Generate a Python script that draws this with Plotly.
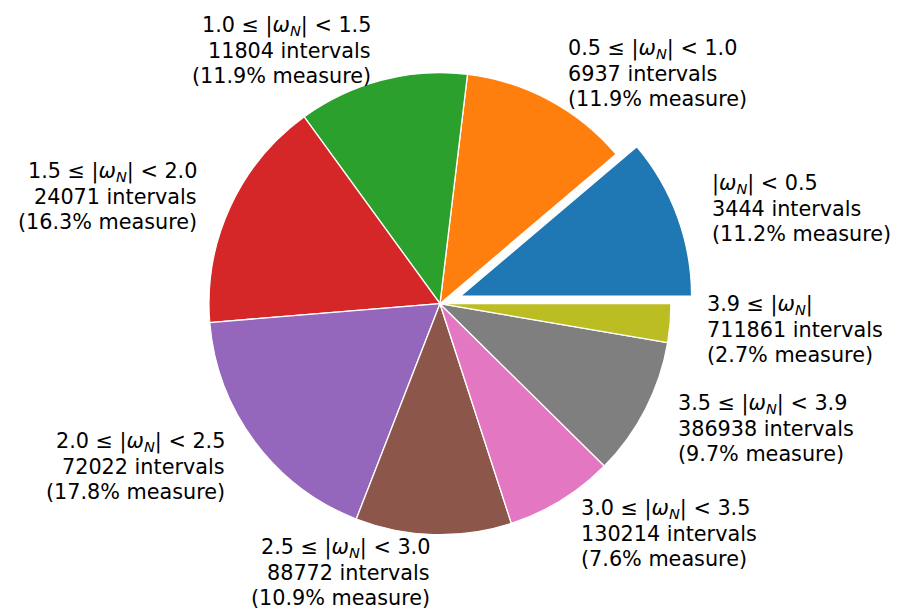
import math
import plotly.graph_objects as go

# ---- data ----
ranges = ["|ω_N| < 0.5", "0.5 ≤ |ω_N| < 1.0", "1.0 ≤ |ω_N| < 1.5", "1.5 ≤ |ω_N| < 2.0",
          "2.0 ≤ |ω_N| < 2.5", "2.5 ≤ |ω_N| < 3.0", "3.0 ≤ |ω_N| < 3.5", "3.5 ≤ |ω_N| < 3.9",
          "3.9 ≤ |ω_N|"]
intervals = [3444, 6937, 11804, 24071, 72022, 88772, 130214, 386938, 711861]
measure = [11.2, 11.9, 11.9, 16.3, 17.8, 10.9, 7.6, 9.7, 2.7]
colors = ["#1f77b4", "#ff7f0e", "#2ca02c", "#d62728", "#9467bd",
          "#8c564b", "#e377c2", "#7f7f7f", "#bcbd22"]
pulls = [0.095, 0, 0, 0, 0, 0, 0, 0, 0]

W, H = 897, 609
dom_x = [0.2085, 0.7725]
dom_y = [0.0853, 0.9174]
FONT = "DejaVu Sans"
FS = 20.75
LINE = 25
LABEL_DIST = 1.15
TEXT_DY = -4


def mathify(s):
    return s.replace("ω_N", "<i>ω</i><sub><i>N</i></sub>")


total = sum(measure)
# plotly's counterclockwise pies put the first slice clockwise of `rotation`;
# shift so the first slice starts at 3 o'clock and runs counterclockwise.
rotation = 90 - measure[0] / total * 360

fig = go.Figure(go.Pie(
    values=measure,
    sort=False,
    direction="counterclockwise",
    rotation=rotation,
    pull=pulls,
    marker=dict(colors=colors, line=dict(color="white", width=1.3)),
    textinfo="none",
    hoverinfo="skip",
    domain=dict(x=dom_x, y=dom_y),
    showlegend=False,
))

# geometry derived from the domain (plotly's own rule for pie radius)
cx = (dom_x[0] + dom_x[1]) / 2 * W
cy = (dom_y[0] + dom_y[1]) / 2 * H  # from bottom
r = min((dom_x[1] - dom_x[0]) * W, (dom_y[1] - dom_y[0]) * H) / (2 * (1 + max(pulls)))

annotations = []
cum = 0.0
for rng, n, m, p in zip(ranges, intervals, measure, pulls):
    mid = (cum + m / 2) / total * 2 * math.pi
    cum += m
    ox = cx + p * r * math.cos(mid)
    oy = cy + p * r * math.sin(mid)
    ax = ox + LABEL_DIST * r * math.cos(mid)
    ay = oy + LABEL_DIST * r * math.sin(mid)
    xanchor = "left" if math.cos(mid) > 0 else "right"
    lines = [mathify(rng), f"{n} intervals", f"({m:.1f}% measure)"]
    for i, t in enumerate(lines):
        annotations.append(dict(
            x=ax / W, y=ay / H, xref="paper", yref="paper",
            text=t, showarrow=False, xanchor=xanchor, yanchor="middle",
            align=xanchor, yshift=(1 - i) * LINE + TEXT_DY,
            font=dict(family=FONT, size=FS, color="black"),
        ))

fig.update_layout(
    width=W, height=H,
    margin=dict(l=0, r=0, t=0, b=0),
    paper_bgcolor="white", plot_bgcolor="white",
    annotations=annotations,
)
fig.write_html("out.html", config={"displayModeBar": False},
               post_script="document.body.style.margin='0px';")
